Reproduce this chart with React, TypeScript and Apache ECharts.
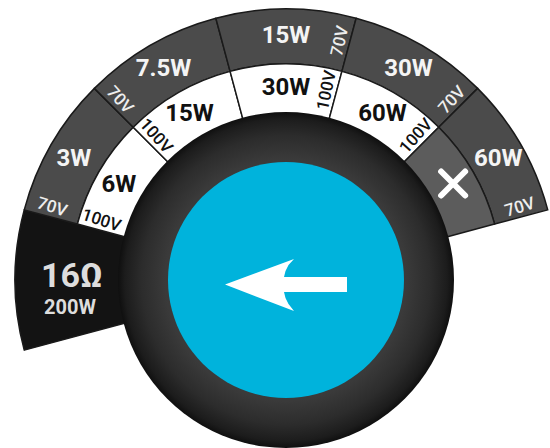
import React, { useEffect, useRef } from "react";
import * as echarts from "echarts";

// ---- data ----
const START_ANGLE = 195; // degrees, first (black) segment starts here, going clockwise
const SEGMENT_SPAN = [30, 30, 30, 30, 30, 30]; // angular width of each position
const OUTER_LABELS = ["", "3W", "7.5W", "15W", "30W", "60W"]; // 70V ring
const INNER_LABELS = ["", "6W", "15W", "30W", "60W", "X"]; // 100V ring ("X" = off)
const OUTER_VOLTAGE = "70V";
const INNER_VOLTAGE = "100V";
const IMPEDANCE = "16Ω";
const IMPEDANCE_POWER = "200W";

// ---- layout / style ----
const CX = 286;
const CY = 280;
const R_HIDDEN = 150;
const R_MID = 216;
const R_OUT = 271;
const R_KNOB = 168;
const R_BLUE = 118;
const R_OUT_LABEL = 245;
const R_IN_LABEL = 193;
const GREY = "#4b4b4b";
const GREY_OFF = "#5c5c5c";
const BLACK = "#131313";
const LINE = "#1a1a1a";
const BLUE = "#00b3dc";
const FONT = "Roboto, 'Liberation Sans', sans-serif";

const deg = Math.PI / 180;
const polar = (r: number, a: number): [number, number] => [CX + r * Math.cos(a * deg), CY - r * Math.sin(a * deg)];

export default function App() {
  const ref = useRef<HTMLDivElement>(null);
  useEffect(() => {
    if (!ref.current) return;
    const chart = echarts.init(ref.current, undefined, { renderer: "svg" });

    const total = SEGMENT_SPAN.reduce((s, v) => s + v, 0);
    const rest = 360 - total;
    const hidden = { color: "rgba(0,0,0,0)", borderWidth: 0 };
    const seg = (v: number, color: string) => ({ value: v, itemStyle: { color, borderColor: LINE, borderWidth: 1.5 } });
    const blank = (v: number) => ({ value: v, itemStyle: hidden });

    const blackData = [seg(SEGMENT_SPAN[0], BLACK), blank(total - SEGMENT_SPAN[0] + rest)];
    const outerData = SEGMENT_SPAN.map((v, i) => (i === 0 ? blank(v) : seg(v, GREY)));
    outerData.push(blank(rest));
    const innerData = SEGMENT_SPAN.map((v, i) =>
      i === 0 ? blank(v) : seg(v, INNER_LABELS[i] === "X" ? GREY_OFF : "#ffffff")
    );
    innerData.push(blank(rest));

    const pieBase = {
      type: "pie",
      center: [CX, CY],
      startAngle: START_ANGLE,
      clockwise: true,
      silent: true,
      label: { show: false },
      labelLine: { show: false },
      emphasis: { disabled: true },
      animation: false,
    };

    // segment boundaries
    const bounds: { start: number; end: number; mid: number }[] = [];
    let a = START_ANGLE;
    SEGMENT_SPAN.forEach((v) => {
      bounds.push({ start: a, end: a - v, mid: a - v / 2 });
      a -= v;
    });

    const graphics: any[] = [];
    // knob
    graphics.push({
      type: "circle",
      z: 100,
      shape: { cx: CX, cy: CY, r: R_KNOB },
      style: {
        fill: {
          type: "radial",
          x: 0.5,
          y: 0.5,
          r: 0.5,
          colorStops: [
            { offset: 0, color: "#444444" },
            { offset: 0.72, color: "#3a3a3a" },
            { offset: 0.86, color: "#2c2c2c" },
            { offset: 0.96, color: "#1c1c1c" },
            { offset: 1, color: "#0f0f0f" },
          ],
        },
      },
    });
    graphics.push({ type: "circle", z: 101, shape: { cx: CX, cy: CY, r: R_BLUE }, style: { fill: BLUE } });
    // arrow
    const ay = CY + 4.5;
    const arrowPts: [number, number][] = [
      [-61, 0], [8, -25.5], [2.5, -19.5], [-0.5, -13.5], [-2, -7.5],
      [61, -7.5], [61, 7.5], [-2, 7.5], [-0.5, 13.5], [2.5, 19.5], [8, 26.5],
    ];
    graphics.push({
      type: "polygon",
      z: 102,
      shape: { points: arrowPts.map(([x, y]) => [CX + x, ay + y]) },
      style: { fill: "#ffffff" },
    });

    const addText = (x: number, y: number, text: string, font: string, fill: string, rot = 0) =>
      graphics.push({
        type: "text",
        z: 103,
        x,
        y,
        rotation: rot,
        style: { text, x: 0, y: 0, align: "center", verticalAlign: "middle", font, fill },
      });

    bounds.forEach((b, i) => {
      if (i === 0) return;
      const [ox, oy] = polar(R_OUT_LABEL, b.mid);
      addText(ox, oy, OUTER_LABELS[i], `bold 24px ${FONT}`, "#f4f4f4");
      const [ix, iy] = polar(R_IN_LABEL, b.mid);
      const isOff = INNER_LABELS[i] === "X";
      if (isOff) {
        const h = 12;
        [[-h, -h, h, h], [-h, h, h, -h]].forEach(([x1, y1, x2, y2]) =>
          graphics.push({
            type: "line",
            z: 103,
            shape: { x1: ix + x1, y1: iy + y1, x2: ix + x2, y2: iy + y2 },
            style: { stroke: "#ffffff", lineWidth: 6, lineCap: "round" },
          })
        );
      } else {
        addText(ix, iy, INNER_LABELS[i], `bold 24px ${FONT}`, "#111111");
      }
      // voltage labels, laid radially next to a boundary
      const left = b.mid > 90;
      const volts = [{ r: R_OUT_LABEL, t: OUTER_VOLTAGE, c: "#eeeeee" }];
      if (!isOff) volts.push({ r: R_MID - 22, t: INNER_VOLTAGE, c: "#111111" });
      volts.forEach(({ r, t, c }) => {
        const off = (10.5 / r) / deg;
        const ang = left ? b.start - off : b.end + off;
        const [vx, vy] = polar(r, ang);
        const rot = (left ? ang - 180 : ang) * deg;
        addText(vx, vy, t, `500 17px ${FONT}`, c, rot);
      });
    });

    // impedance segment
    const [bx, by] = polar(214, bounds[0].mid);
    addText(bx, by - 5, IMPEDANCE, `bold 34px ${FONT}`, "#dddddd");
    addText(bx - 2, by + 27, IMPEDANCE_POWER, `bold 20px ${FONT}`, "#dddddd");

    chart.setOption({
      animation: false,
      backgroundColor: "#ffffff",
      series: [
        { ...pieBase, radius: [R_HIDDEN, R_OUT], data: blackData, z: 1 },
        { ...pieBase, radius: [R_MID, R_OUT], data: outerData, z: 2 },
        { ...pieBase, radius: [R_HIDDEN, R_MID], data: innerData, z: 2 },
      ],
      graphic: { elements: graphics },
    });
    return () => chart.dispose();
  }, []);
  return <div ref={ref} style={{ position: "fixed", left: 0, top: 0, width: 550, height: 448 }} />;
}
